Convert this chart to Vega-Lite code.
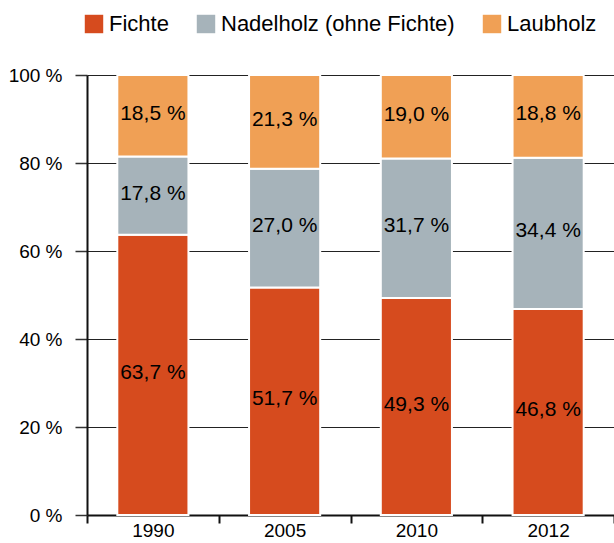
{
  "$schema": "https://vega.github.io/schema/vega-lite/v6.json",
  "width": 527,
  "height": 440,
  "autosize": {"type": "none"},
  "padding": {"left": 87, "top": 75, "right": 0, "bottom": 28},
  "config": {"font": "Liberation Sans", "view": {"stroke": null}},
  "data": {
    "values": [
      {"jahr": "1990", "art": "Fichte", "ord": 1, "anteil": 63.7, "label": "63,7 %"},
      {"jahr": "1990", "art": "Nadelholz (ohne Fichte)", "ord": 2, "anteil": 17.8, "label": "17,8 %"},
      {"jahr": "1990", "art": "Laubholz", "ord": 3, "anteil": 18.5, "label": "18,5 %"},
      {"jahr": "2005", "art": "Fichte", "ord": 1, "anteil": 51.7, "label": "51,7 %"},
      {"jahr": "2005", "art": "Nadelholz (ohne Fichte)", "ord": 2, "anteil": 27.0, "label": "27,0 %"},
      {"jahr": "2005", "art": "Laubholz", "ord": 3, "anteil": 21.3, "label": "21,3 %"},
      {"jahr": "2010", "art": "Fichte", "ord": 1, "anteil": 49.3, "label": "49,3 %"},
      {"jahr": "2010", "art": "Nadelholz (ohne Fichte)", "ord": 2, "anteil": 31.7, "label": "31,7 %"},
      {"jahr": "2010", "art": "Laubholz", "ord": 3, "anteil": 19.0, "label": "19,0 %"},
      {"jahr": "2012", "art": "Fichte", "ord": 1, "anteil": 46.8, "label": "46,8 %"},
      {"jahr": "2012", "art": "Nadelholz (ohne Fichte)", "ord": 2, "anteil": 34.4, "label": "34,4 %"},
      {"jahr": "2012", "art": "Laubholz", "ord": 3, "anteil": 18.8, "label": "18,8 %"}
    ]
  },
  "encoding": {
    "x": {
      "field": "jahr", "type": "nominal",
      "scale": {"paddingInner": 0, "paddingOuter": 0},
      "axis": {
        "title": null, "labelAngle": 0, "labelFontSize": 19, "labelColor": "#000",
        "tickBand": "extent", "tickSize": 8, "tickWidth": 2, "tickColor": "#111",
        "domainColor": "#111", "domainWidth": 2, "labelPadding": -2, "grid": false
      }
    }
  },
  "layer": [
    {
      "mark": {"type": "bar", "stroke": "white", "strokeWidth": 2, "width": {"band": 0.54}},
      "encoding": {
        "y": {
          "field": "anteil", "type": "quantitative", "stack": "zero",
          "scale": {"domain": [0, 100]},
          "axis": {
            "title": null, "values": [0, 20, 40, 60, 80, 100],
            "labelExpr": "datum.value + ' %'", "labelFontSize": 19, "labelColor": "#000",
            "labelPadding": 13, "tickSize": 12, "tickColor": "#333", "tickWidth": 1.5,
            "domainColor": "#111", "domainWidth": 2,
            "grid": true, "gridColor": "#222", "gridWidth": 1.2
          }
        },
        "color": {
          "field": "art", "type": "nominal",
          "scale": {
            "domain": ["Fichte", "Nadelholz (ohne Fichte)", "Laubholz"],
            "range": ["#D64B1E", "#A6B3BA", "#F0A055"]
          },
          "legend": {
            "title": null, "orient": "none", "direction": "horizontal",
            "legendX": -4, "legendY": -62, "padding": 0,
            "symbolType": "square", "symbolSize": 340, "symbolStrokeWidth": 0,
            "labelFontSize": 22, "labelColor": "#000", "labelOffset": 4, "labelLimit": 0,
            "columnPadding": 26
          }
        },
        "order": {"field": "ord", "type": "quantitative"}
      }
    },
    {
      "mark": {"type": "text", "fontSize": 21, "color": "#000", "dy": -2},
      "encoding": {
        "y": {"field": "anteil", "type": "quantitative", "stack": "zero", "bandPosition": 0.5},
        "text": {"field": "label"},
        "order": {"field": "ord", "type": "quantitative"}
      }
    }
  ]
}
